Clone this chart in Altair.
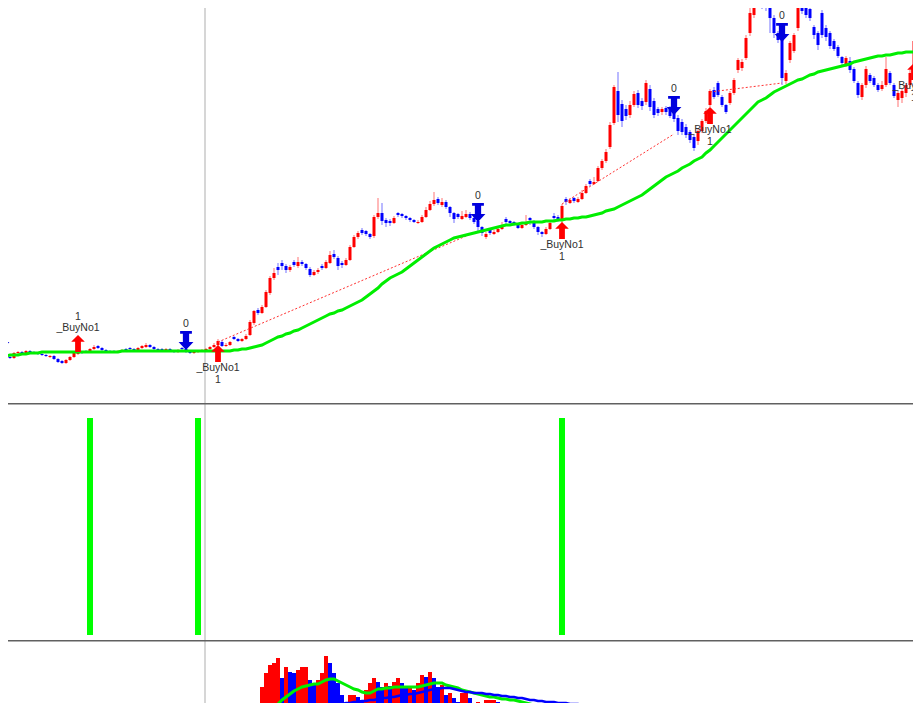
import altair as alt
import pandas as pd

# ---------------- candle data (price units, 230 sessions) ----------------
O = [53,50,46,45,50,51,50,52,51,50, 49,48,46,47,44,42,40,43,46,49,
     51,52,51,54,57,55,53,52,52,51, 52,54,55,54,53,55,56,58,56,54,
     54,53,54,52,51,55,54,51,50,51, 52,53,54,56,58,61,57,58,66,64,
     62,64,68,80,93,90,96,110,125,136, 140,137,133,141,137,141,139,134,128,131,
     137,135,140,149,145,140,138,143,156,166, 173,172,169,167,186,190,183,182,180,190,
     189,187,185,183,180,181,186,193,199,204, 198,201,196,190,189,184,186,189,185,182,
     176,166,173,169,171,174,184,182,181,179, 175,178,185,182,176,171,169,174,187,186,
     182,204,200,205,201,204,210,222,219,222, 235,242,256,280,312,299,294,288,298,310,
     302,301,314,302,294,291,295,295,290,285, 281,276,271,266,262,272,282,298,313,320,
     306,298,300,310,333,335,345,370,388,410, 408,405,402,385,370,373,322,343,352,375,
     400,396,394,376,370,390,375,370,362,356, 346,338,342,334,320,306,318,328,325,318,
     314,318,330,318,303,305,310,318,338,362]
H = [54,51,47,51,52,52,53,53,52,51, 50,49,48,48,45,43,44,47,51,53,
     52,53,55,58,58,56,54,53,53,53, 54,55,56,55,56,58,60,59,57,55,
     55,55,55,53,54,56,55,52,52,53, 54,55,57,60,64,63,60,62,67,65,
     65,69,83,93,95,98,113,127,135,140, 143,139,138,143,146,143,140,136,133,135,
     139,143,152,153,147,142,145,158,168,172, 175,173,170,188,205,200,185,184,187,191,
     190,188,186,184,183,188,196,202,211,206, 205,203,197,191,190,192,193,191,187,184,
     177,171,174,173,177,181,186,183,182,180, 180,188,186,183,177,172,176,182,190,188,
     199,206,205,206,206,213,219,224,226,237, 244,254,281,318,331,303,298,302,312,313,
     305,323,318,305,296,296,297,297,292,288, 284,279,273,268,275,284,295,314,316,322,
     308,299,312,325,345,344,368,395,410,415, 414,410,406,388,372,375,333,362,370,400,
     403,398,397,378,372,393,378,372,364,358, 347,347,346,336,322,320,337,330,327,320,
     322,346,332,320,312,314,320,333,365,366]
L = [49,45,44,44,49,49,50,50,49,48, 47,46,45,43,40,39,39,42,45,48,
     49,50,50,53,54,52,51,50,50,50, 51,52,53,52,52,54,55,55,53,52,
     52,52,51,50,50,53,50,49,49,50, 51,52,53,55,57,56,56,57,63,61,
     61,63,67,78,88,89,95,108,123,128, 133,130,131,136,135,137,133,126,127,129,
     133,134,139,144,133,135,137,142,155,164, 168,167,164,165,184,178,176,177,179,186,
     185,183,181,180,179,180,185,192,197,198, 196,194,186,180,184,183,185,183,179,172,
     167,164,168,168,170,173,179,178,177,174, 174,177,178,174,168,166,168,173,183,181,
     180,198,199,200,200,203,209,217,218,221, 233,240,254,278,281,276,283,285,296,295,
     293,298,292,285,287,288,288,285,281,268, 268,265,260,252,258,270,280,296,304,306,
     296,289,298,308,330,332,343,367,385,396, 394,392,370,365,360,318,319,340,350,372,
     389,385,382,364,353,365,362,354,352,345, 337,336,330,320,305,303,315,320,316,311,
     312,316,318,305,296,300,306,316,336,352]
C = [50,46,45,50,51,50,52,51,50,49, 48,47,47,44,41,40,43,46,50,51,
     50,51,54,56,55,53,52,51,51,52, 53,53,54,53,55,57,58,56,54,53,
     53,54,52,51,53,54,51,50,51,52, 53,54,56,58,62,57,58,61,64,62,
     64,67,81,92,90,96,111,125,130,133, 137,133,136,138,141,139,135,128,131,133,
     135,141,148,146,137,138,143,156,166,170, 170,169,166,186,190,182,180,180,185,188,
     187,185,183,181,181,186,193,199,203,200, 201,196,190,184,186,187,189,185,181,176,
     170,169,170,171,174,177,181,180,179,175, 178,181,183,176,171,169,174,180,185,184,
     197,201,203,202,204,210,217,219,221,235, 242,251,278,316,288,282,287,298,309,298,
     297,320,296,288,290,294,291,287,284,272, 271,268,263,255,272,282,292,312,306,308,
     298,291,310,323,343,341,365,390,405,400, 398,398,385,370,363,325,330,360,368,395,
     392,388,385,368,358,368,366,357,354,347, 340,345,333,322,308,318,334,322,318,313,
     318,334,320,307,310,312,318,330,362,355]

# moving average drawn on the price panel
MA = [47,47,48,48,48,49,49,50,50,50,
      51,51,51,51,51,51,51,51,51,51,
      51,51,51,51,51,51,51,51,51,51,
      52,52,52,52,52,52,52,52,52,52,
      52,52,52,52,52,52,52,52,52,52,
      52,52,52,52,52,52,52,52,53,53,
      54,54,
      55,56,57,58,60,62,64,66,67,69,
      70,72,73,75,77,79,81,83,85,87,
      89,90,92,93,95,97,99,101,103,106,
      109,112,115,119,122,125,127,129,131,134,
      137,140,143,146,149,152,155,157,159,161,
      163,165,166,167,168,169,170,171,172,173,
      174,175,176,177,178,178,179,179,180,180,
      181,181,181,181,182,182,182,183,183,184,
      184,185,185,186,186,187,188,189,190,192,
      193,194,196,198,200,202,204,206,208,211,
      214,217,220,223,226,228,230,232,235,237,
      239,242,244,246,250,253,257,261,265,269,
      273,277,281,285,289,293,297,301,303,305,
      308,311,313,315,317,319,321,323,324,326,
      328,329,331,332,333,334,335,336,337,338,
      339,341,342,343,344,345,346,347,347,348,
      348,349,350,350,351,351,351,352]

# volume (same sessions)
VOL = [30,28,25,27,24,22,25,23,21,22, 24,26,28,31,35,33,30,34,32,27,
       25,28,30,33,29,26,24,22,23,25, 24,22,26,29,31,33,28,25,23,22,
       21,24,22,20,23,26,25,22,24,26, 28,30,32,34,36,33,35,38,36,34,
       38,42,
       45,52,50,73,87,95,97,102,82,93, 88,87,90,93,93,80,77,80,87,104,
       97,87,77,65,57,65,65,63,60,70, 77,82,78,73,77,74,78,82,77,72,
       72,70,77,85,83,88,82,73,75,65, 67,62,58,67,67,62,57,58,56,60,
       60,60,58,54,50,48,
       47,46,48,45,44,47,45,43,46,48, 47,45,52,50,48,46,49,47,45,48,
       50,52,
       54,56,57,56,52,50,48,47,46,45,
       44,42,45,47,43,41,40,44,46,48, 45,43,42,44,47,49,52,55,50,47,
       45,44,48,50,53,55,54,52,50,48, 47,46,49,51,50,53,48,46,45,47,
       44,43,42,44,41,40,42,43,41,40, 39,41,42,44,45,43,42,40,39,41,
       42,45,43,41,40,42,44,46,50,45]

VOL_MA_START = 60
VOL_MA_S = [30,33,36,39,42,45,47,49,52,56, 60,63,66,69,71,73,74,75,76,76,
            78,80,81,81,79,77,75,73,71,70, 68,67,67,69,71,71,72,72,73,73,
            73,73,73,73,73,74,75,76,77,77, 77,75,74,73,72,70,69,68,67,66,
            65,64,63,63,62,61,61,60,60,59, 58,57,56,55,54,53,52,52,51,51,
            50,50,50,50,49,49,49,49,49,49, 49,50,50,50,50,49,49,48,48,47,47]
VOL_MA_L = [40,41,42,42,43,44,44,45,45,46, 46,47,47,48,48,48,49,49,49,50,
            51,52,53,54,55,56,57,57,58,58, 59,59,60,60,61,62,62,63,63,64,
            65,65,66,66,67,68,69,70,71,71, 72,72,72,71,70,69,68,68,67,67,
            67,66,66,65,65,64,64,63,63,62, 62,61,60,60,59,59,58,58,58,57,
            57,57,56,56,56,55,55,55,54,54, 54,53,53,53,52,52,51,51,50,50,49]

# trading signals
BUY_IDX = [19, 54, 140, 177, 228]
BUY_TIP = [68, 58, 181, 296, 340]
BUY_ABOVE = [True, False, False, False, False]
BUY_NAME = ["_BuyNo1"] * 5
BUY_QTY = ["1"] * 5
SELL_IDX = [0, 46, 119, 168, 195]
SELL_TIP = [53, 53, 181, 288, 361]
SELL_NAME = ["0"] * 5
TRADE_IN_IDX = [19, 54, 140, 177]
TRADE_IN_PX = [51, 61, 199, 311]
TRADE_OUT_IDX = [46, 119, 168, 195]
TRADE_OUT_PX = [52, 172, 269, 320]
SIG_IDX = [22, 49, 140]
SIG_VAL = [1, 1, 1]
CURSOR_IDX = [50.75]

# ---------------- tables ----------------
N = len(C)
df = pd.DataFrame({"i": list(range(N)), "open": O, "high": H, "low": L,
                   "close": C, "ma": MA, "vol": VOL})
df["dir"] = ["up" if c >= o else "down" for o, c in zip(O, C)]
# volume bars: red when volume rose versus the previous session
df["vdir"] = ["up" if k == 0 or VOL[k] >= VOL[k - 1] else "down" for k in range(N)]
vma = pd.DataFrame({"i": list(range(VOL_MA_START, VOL_MA_START + len(VOL_MA_S))),
                    "s": VOL_MA_S, "l": VOL_MA_L})
buys = pd.DataFrame({"i": BUY_IDX, "tip": BUY_TIP, "above": BUY_ABOVE,
                     "name": BUY_NAME, "qty": BUY_QTY})
sells = pd.DataFrame({"i": SELL_IDX, "tip": SELL_TIP, "name": SELL_NAME})
trades = pd.DataFrame({"i": TRADE_IN_IDX, "p": TRADE_IN_PX,
                       "i2": TRADE_OUT_IDX, "p2": TRADE_OUT_PX})
sig = pd.DataFrame({"i": SIG_IDX, "v": SIG_VAL})
cur = pd.DataFrame({"i": CURSOR_IDX})
one = pd.DataFrame({"a": [0]})

W = 905
xs = alt.Scale(domain=[1.5, 227.75], nice=False, zero=False, padding=0)
X = alt.X("i:Q", scale=xs, axis=None)
RB = alt.Scale(domain=["up", "down"], range=["#ff0000", "#0000ff"])
col = alt.Color("dir:N", scale=RB, legend=None)
vcol = alt.Color("vdir:N", scale=RB, legend=None)

UP_ARROW = "M0,0L0.8,0.8L0.34,0.8L0.34,2L-0.34,2L-0.34,0.8L-0.8,0.8Z"
DOWN_ARROW = ("M0,0L0.78,-0.85L0.33,-0.85L0.33,-1.7L0.62,-1.7L0.62,-2L-0.62,-2"
              "L-0.62,-1.7L-0.33,-1.7L-0.33,-0.85L-0.78,-0.85Z")
FONT = "Liberation Sans"

def cursor_layer():
    return alt.Chart(cur).mark_rule(color="#d6d6d6", strokeWidth=2, clip=True).encode(x=X)

# ---------------- price panel ----------------
ys = alt.Scale(domain=[0, 395], nice=False, zero=False, padding=0)
Yp = lambda f: alt.Y(f, scale=ys, axis=None)
base = alt.Chart(df)
wick = base.mark_rule(strokeWidth=1, opacity=0.55, clip=True).encode(
    x=X, y=Yp("low:Q"), y2="high:Q", color=col)
body = base.mark_bar(size=3, clip=True).encode(
    x=X, y=Yp("open:Q"), y2="close:Q", color=col)
trade_lines = alt.Chart(trades).mark_rule(color="#ff3030", strokeWidth=1,
                                          strokeDash=[2, 2], clip=True).encode(
    x=X, y=Yp("p:Q"), x2="i2:Q", y2="p2:Q")
ma_line = base.mark_line(color="#00ee00", strokeWidth=3, clip=True).encode(
    x=X, y=Yp("ma:Q"))
buy_arrow = alt.Chart(buys).mark_point(shape=UP_ARROW, size=289, filled=True,
                                       color="#ff0000", opacity=1, strokeWidth=0,
                                       clip=True).encode(x=X, y=Yp("tip:Q"))
sell_arrow = alt.Chart(sells).mark_point(shape=DOWN_ARROW, size=361, filled=True,
                                         color="#0000dd", opacity=1, strokeWidth=0,
                                         clip=True).encode(x=X, y=Yp("tip:Q"))
tkw = dict(font=FONT, fontSize=10.5, color="#303030", baseline="middle",
           align="center", clip=True)
below = alt.Chart(buys).transform_filter("!datum.above")
above = alt.Chart(buys).transform_filter("datum.above")
t1 = below.mark_text(dy=23, **tkw).encode(x=X, y=Yp("tip:Q"), text="name:N")
t2 = below.mark_text(dy=35, **tkw).encode(x=X, y=Yp("tip:Q"), text="qty:N")
t3 = above.mark_text(dy=-7, **tkw).encode(x=X, y=Yp("tip:Q"), text="name:N")
t4 = above.mark_text(dy=-18, **tkw).encode(x=X, y=Yp("tip:Q"), text="qty:N")
t5 = alt.Chart(sells).mark_text(dy=-26, **tkw).encode(x=X, y=Yp("tip:Q"), text="name:N")

price = alt.layer(cursor_layer(), wick, body, trade_lines, ma_line,
                  buy_arrow, sell_arrow, t1, t2, t3, t4, t5).properties(width=W, height=395)

# ---------------- signal panel ----------------
ysig = alt.Scale(domain=[-0.023, 1.069], nice=False, zero=False, padding=0)
sep = alt.Chart(one).mark_rule(color="#606060", strokeWidth=1.5, clip=True).encode(
    x=alt.value(0), x2=alt.value(W), y=alt.value(0.75))
sig_bars = alt.Chart(sig).mark_bar(size=6, color="#00ff00", clip=True).encode(
    x=X, y=alt.Y("v:Q", scale=ysig, axis=None), y2=alt.datum(0))
signal = alt.layer(cursor_layer(), sig_bars, sep).properties(width=W, height=237)

# ---------------- volume panel ----------------
yv = alt.Scale(domain=[57, 120], nice=False, zero=False, padding=0)
vbars = alt.Chart(df).mark_bar(size=4, clip=True).encode(
    x=X, y=alt.Y("vol:Q", scale=yv, axis=None), y2=alt.datum(0), color=vcol)
vs = alt.Chart(vma).mark_line(color="#00ee00", strokeWidth=3, clip=True).encode(
    x=X, y=alt.Y("s:Q", scale=yv, axis=None))
vl = alt.Chart(vma).mark_line(color="#0000ff", strokeWidth=2.5, clip=True).encode(
    x=X, y=alt.Y("l:Q", scale=yv, axis=None))
volume = alt.layer(cursor_layer(), vbars, vs, vl, sep).properties(width=W, height=63)

chart = alt.vconcat(price, signal, volume, spacing=0).properties(
    padding=0, background="white"
).configure_view(stroke=None)

chart.save("out.html", embed_options={"renderer": "svg", "actions": False})
